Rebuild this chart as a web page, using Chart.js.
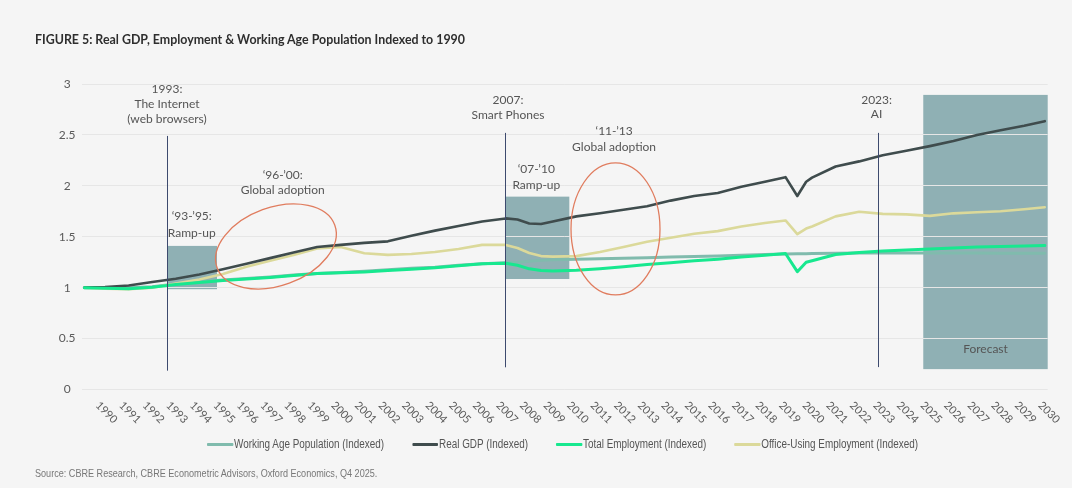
<!DOCTYPE html>
<html><head><meta charset="utf-8">
<script src="https://cdn.jsdelivr.net/npm/chart.js@4.4.1/dist/chart.umd.min.js"></script>
<style>
html,body{margin:0;padding:0;background:#f5f5f5;}
#wrap{position:relative;width:1072px;height:488px;overflow:hidden;background:#f5f5f5;}
canvas{position:absolute;left:0;top:0;}
#title{position:absolute;left:35px;top:32px;font:700 12.4px Lato, sans-serif;color:#2e2e2e;white-space:nowrap;}
#legend{position:absolute;top:437px;left:207px;display:flex;font:12px "Liberation Sans", Arial, sans-serif;color:#555;white-space:nowrap;transform:scaleX(0.825);transform-origin:0 0;}
.item{display:flex;align-items:center;margin-right:34px;}
.sw{width:31.5px;height:3px;margin-right:1.2px;border-radius:1px;}
#source{position:absolute;left:35px;top:467px;font:11.5px "Liberation Sans", Arial, sans-serif;color:#777;white-space:nowrap;transform:scaleX(0.79);transform-origin:0 0;}
</style></head>
<body>
<div id="wrap">
<canvas id="c" width="1072" height="488"></canvas>
<div id="title">FIGURE 5: Real GDP, Employment &amp; Working Age Population Indexed to 1990</div>
<div id="legend"></div>
<div id="source">Source: CBRE Research, CBRE Econometric Advisors, Oxford Economics, Q4 2025.</div>
</div>
<script>
// ---- data ----
const xPoints = [1990.125,1991,1992,1993,1994,1995,1996,1997,1998,1999,2000,2001,2002,2003,2004,2005,2006,2007,2008,2008.5,2009,2009.5,2010,2011,2012,2013,2014,2015,2016,2017,2018,2019,2019.875,2020.375,2020.75,2021,2022,2023,2024,2025,2026,2027,2028,2029,2030,2030.875];
const realGDP = [1.00,1.005,1.022,1.055,1.088,1.13,1.18,1.235,1.29,1.345,1.40,1.42,1.44,1.455,1.51,1.56,1.605,1.65,1.68,1.67,1.63,1.625,1.65,1.70,1.73,1.765,1.80,1.855,1.90,1.93,1.99,2.04,2.085,1.90,2.04,2.08,2.19,2.24,2.30,2.345,2.39,2.44,2.50,2.545,2.59,2.635];
const officeEmp = [1.00,0.99,0.985,1.00,1.04,1.08,1.135,1.205,1.265,1.32,1.385,1.40,1.338,1.322,1.33,1.35,1.38,1.42,1.42,1.39,1.34,1.31,1.305,1.31,1.35,1.40,1.45,1.49,1.53,1.555,1.60,1.635,1.66,1.525,1.58,1.60,1.70,1.745,1.725,1.72,1.705,1.73,1.74,1.75,1.77,1.79];
const totalEmp = [1.00,0.995,0.99,1.005,1.03,1.05,1.07,1.085,1.10,1.12,1.14,1.147,1.155,1.168,1.18,1.195,1.215,1.235,1.24,1.22,1.185,1.168,1.164,1.17,1.185,1.205,1.228,1.245,1.265,1.28,1.30,1.318,1.335,1.157,1.25,1.265,1.325,1.345,1.36,1.37,1.38,1.39,1.40,1.405,1.41,1.413];
const workingAgePop = [1.00,1.002,1.00,1.01,1.035,1.055,1.075,1.09,1.105,1.125,1.14,1.15,1.16,1.175,1.19,1.20,1.22,1.235,1.245,1.25,1.26,1.268,1.275,1.28,1.285,1.29,1.295,1.30,1.305,1.31,1.318,1.325,1.33,1.332,1.334,1.335,1.338,1.34,1.34,1.34,1.34,1.34,1.34,1.338,1.338,1.337];
const yearLabels = [];
for (let yr = 1990; yr <= 2030; yr++) yearLabels.push(String(yr));
const seriesNames = ["Working Age Population (Indexed)","Real GDP (Indexed)","Total Employment (Indexed)","Office-Using Employment (Indexed)"];
const seriesColors = ["#80bbad","#3f4c4d","#17e88f","#dbd99a"];

// ---- annotations (layout) ----
const BOX_COLOR = "rgb(143,176,180)";
const boxes = [
  {x0:1993.63, x1:1995.75, y0:0.985, y1:1.41},
  {x0:2007.97, x1:2010.70, y0:1.085, y1:1.894},
  {x0:2025.72, x1:2031, y0:0.20, y1:2.893}
];
const vlines = [
  {x:1993.63, y0:0.185, y1:2.49},
  {x:2007.97, y0:0.218, y1:2.52},
  {x:2023.79, y0:0.22, y1:2.52}
];
const ellipses = [
  {cx:1998.25, cy:1.405, rxPx:62.6, ryPx:39.1, rot:-20},
  {cx:2012.66, cy:1.577, rxPx:44.5, ryPx:66, rot:0}
];
const notes = [
  {x:1993.63, y:2.952, t:"1993:"},
  {x:1993.63, y:2.805, t:"The Internet"},
  {x:1993.63, y:2.654, t:"(web browsers)"},
  {x:1994.68, y:1.698, t:"\u201893-\u201995:"},
  {x:1994.68, y:1.534, t:"Ramp-up"},
  {x:1998.54, y:2.107, t:"\u201896-\u201900:"},
  {x:1998.54, y:1.953, t:"Global adoption"},
  {x:2008.1, y:2.844, t:"2007:"},
  {x:2008.1, y:2.697, t:"Smart Phones"},
  {x:2009.3, y:2.166, t:"\u201807-\u201910"},
  {x:2009.3, y:2.009, t:"Ramp-up"},
  {x:2012.6, y:2.533, t:"\u201811-\u201913"},
  {x:2012.6, y:2.379, t:"Global adoption"},
  {x:2023.74, y:2.844, t:"2023:"},
  {x:2023.74, y:2.703, t:"AI"},
  {x:2028.36, y:0.395, t:"Forecast"}
];

const annot = {
  id:'annot',
  beforeDraw(chart){
    const {ctx, scales:{x, y}} = chart;
    ctx.save();
    ctx.fillStyle = BOX_COLOR;
    boxes.forEach(b => {
      const px0 = x.getPixelForValue(b.x0), px1 = x.getPixelForValue(b.x1);
      const py0 = y.getPixelForValue(b.y1), py1 = y.getPixelForValue(b.y0);
      ctx.fillRect(px0, py0, px1 - px0, py1 - py0);
    });
    ctx.restore();
  },
  afterDatasetsDraw(chart){
    const {ctx, scales:{x, y}, chartArea} = chart;
    ctx.save();
    // vertical lines
    ctx.strokeStyle = "#3d4a6e";
    ctx.lineWidth = 1;
    vlines.forEach(v => {
      const px = Math.round(x.getPixelForValue(v.x)) + 0.5;
      ctx.beginPath();
      ctx.moveTo(px, y.getPixelForValue(v.y1));
      ctx.lineTo(px, y.getPixelForValue(v.y0));
      ctx.stroke();
    });
    // ellipses
    ctx.strokeStyle = "#e07c5e";
    ctx.lineWidth = 1.3;
    ellipses.forEach(e => {
      ctx.beginPath();
      ctx.ellipse(x.getPixelForValue(e.cx), y.getPixelForValue(e.cy), e.rxPx, e.ryPx, e.rot*Math.PI/180, 0, Math.PI*2);
      ctx.stroke();
    });
    // notes
    ctx.fillStyle = "#555";
    ctx.font = "12px Lato, sans-serif";
    ctx.textAlign = "center";
    ctx.textBaseline = "middle";
    notes.forEach(n => {
      ctx.fillText(n.t, x.getPixelForValue(n.x), y.getPixelForValue(n.y));
    });
    // rotated x labels
    ctx.fillStyle = "#5a5a5a";
    ctx.font = "11px Lato, sans-serif";
    ctx.textAlign = "left";
    ctx.textBaseline = "top";
    yearLabels.forEach(lbl => {
      const px = x.getPixelForValue(Number(lbl) + 0.5);
      ctx.save();
      ctx.translate(px + 8, chartArea.bottom + 10);
      ctx.rotate(Math.PI/4);
      ctx.fillText(lbl, 0, 0);
      ctx.restore();
    });
    ctx.restore();
  }
};

const seriesData = [workingAgePop, realGDP, totalEmp, officeEmp];
const widths = [3, 2.6, 3, 2.6];
const orders = [3, 1, 0, 2];
const datasets = seriesNames.map((name, i) => ({
  label: name,
  data: xPoints.map((xv, j) => ({x: xv, y: seriesData[i][j]})),
  borderColor: seriesColors[i],
  backgroundColor: seriesColors[i],
  borderWidth: widths[i],
  pointRadius: 0,
  tension: 0,
  order: orders[i],
  borderJoinStyle: 'round',
  borderCapStyle: 'round'
}));

new Chart(document.getElementById('c'), {
  type: 'line',
  data: { datasets },
  options: {
    responsive: false,
    animation: false,
    devicePixelRatio: 1,
    layout: { padding: { left: 41.5, right: 24.3, top: 84, bottom: 0 } },
    plugins: { legend: { display: false }, tooltip: { enabled: false } },
    scales: {
      x: {
        type: 'linear', min: 1990, max: 2031,
        grid: { display: false }, border: { display: false },
        ticks: { display: false },
        afterFit(s){ s.height = 98.5; }
      },
      y: {
        min: 0, max: 3,
        grid: { color: '#e6e6e6', lineWidth: 1, drawTicks: false },
        border: { display: false },
        ticks: { stepSize: 0.5, padding: 6, crossAlign: 'center', color: '#5a5a5a', font: { family: 'Lato', size: 12 }, callback: v => String(v) },
        afterFit(s){ s.width = 40; }
      }
    }
  },
  plugins: [annot]
});

// HTML legend from series arrays
const leg = document.getElementById('legend');
seriesNames.forEach((n, i) => {
  const it = document.createElement('div'); it.className = 'item';
  const sw = document.createElement('span'); sw.className = 'sw'; sw.style.background = seriesColors[i];
  const tx = document.createElement('span'); tx.textContent = n;
  it.appendChild(sw); it.appendChild(tx); leg.appendChild(it);
});
</script>
</body></html>
